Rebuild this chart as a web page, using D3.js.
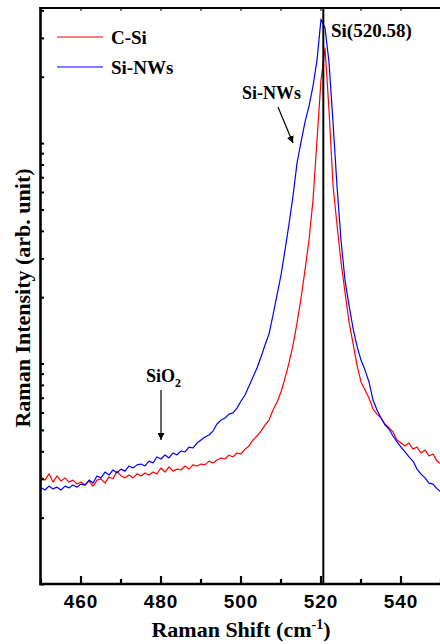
<!DOCTYPE html>
<html>
<head>
<meta charset="utf-8">
<script src="https://cdn.jsdelivr.net/npm/d3@7/dist/d3.min.js"></script>
<style>
  html, body { margin: 0; padding: 0; background: #fff; }
  svg { display: block; }
</style>
</head>
<body>
<svg id="chart" width="440" height="644"></svg>
<script>
// Raman shift (cm^-1), one sample per wavenumber
const shift = d3.range(450, 551);

// Crystalline silicon reference spectrum
const cSi = [
  3.06, 2.96, 3.16, 2.90, 3.09, 2.93, 3.03, 2.90, 2.96, 2.84,
  2.90, 2.81, 2.93, 2.78, 2.96, 3.00, 2.87, 3.06, 3.00, 3.25,
  3.09, 3.03, 3.12, 3.03, 3.16, 3.09, 3.19, 3.12, 3.22, 3.16,
  3.36, 3.22, 3.40, 3.25, 3.32, 3.29, 3.43, 3.32, 3.47, 3.43,
  3.50, 3.47, 3.61, 3.54, 3.65, 3.73, 3.69, 3.84, 3.77, 3.93,
  3.89, 4.09, 4.23, 4.50, 4.69, 4.94, 5.26, 5.54, 6.15, 6.68,
  7.43, 8.59, 10.06, 12.13, 15.25, 19.77, 26.55, 36.32, 55.1, 103.2,
  193.1, 269.7, 141.2, 64.5, 42.5, 28.9, 21.1, 15.43, 12.39, 9.84,
  8.25, 7.58, 6.98, 6.22, 5.90, 5.66, 5.32, 5.10, 4.89, 4.50,
  4.36, 4.23, 4.36, 4.09, 4.18, 3.93, 4.05, 3.81, 3.89, 3.61,
  3.50
];

// Silicon nanowire spectrum
const siNWs = [
  2.73, 2.67, 2.78, 2.70, 2.75, 2.67, 2.78, 2.73, 2.81, 2.75,
  2.84, 2.81, 2.96, 2.87, 3.09, 3.03, 3.22, 3.12, 3.29, 3.19,
  3.32, 3.25, 3.43, 3.36, 3.47, 3.50, 3.43, 3.61, 3.54, 3.77,
  3.69, 3.85, 3.73, 3.93, 3.85, 4.01, 3.97, 4.18, 4.14, 4.36,
  4.50, 4.64, 4.74, 4.94, 5.32, 5.54, 5.66, 5.90, 5.97, 6.28,
  6.76, 7.20, 7.91, 8.68, 9.54, 10.70, 12.13, 13.61, 16.60, 20.45,
  25.20, 32.71, 42.93, 57.50, 81.18, 101.0, 124.5, 147.2, 181.4, 237.9,
  365.0, 332.3, 233.0, 124.5, 63.83, 36.32, 23.91, 18.42, 14.49, 12.00,
  10.37, 9.34, 8.25, 6.83, 6.15, 5.66, 5.26, 5.05, 4.69, 4.41,
  4.18, 3.97, 3.77, 3.61, 3.32, 3.15, 3.03, 2.87, 2.84, 2.70,
  2.61
];

const seriesNames = ["C-Si", "Si-NWs"];
const seriesColors = ["#ff0000", "#0000ff"];
const xTickLabels = [460, 480, 500, 520, 540];
const peakPosition = 520.58;

const svg = d3.select("#chart");
const serif = "'Liberation Serif', 'Times New Roman', serif";
const sans = "'Liberation Sans', Arial, sans-serif";

const frame = { left: 41, right: 441, top: 8, bottom: 584 };

const x = d3.scaleLinear().domain([450, 550]).range([frame.left, frame.right]);
const y = d3.scaleLog().domain([1, 410]).range([frame.bottom, frame.top]);

const defs = svg.append("defs");

// clip the spectra to the frame
defs.append("clipPath").attr("id", "plotClip")
  .append("rect").attr("x", frame.left).attr("y", frame.top)
  .attr("width", frame.right - frame.left).attr("height", frame.bottom - frame.top);

defs.append("marker")
  .attr("id", "arrowHead")
  .attr("viewBox", "0 0 10 10")
  .attr("refX", 10).attr("refY", 5)
  .attr("markerWidth", 7).attr("markerHeight", 7)
  .attr("markerUnits", "userSpaceOnUse")
  .attr("orient", "auto")
  .append("path").attr("d", "M0,0 L10,5 L0,10 Z").attr("fill", "#000");

// spectra
const line = d3.line()
  .x((d, i) => x(shift[i]))
  .y(d => y(d));

const plot = svg.append("g").attr("clip-path", "url(#plotClip)");
[cSi, siNWs].forEach((vals, k) => {
  plot.append("path")
    .datum(vals)
    .attr("fill", "none")
    .attr("stroke", seriesColors[k])
    .attr("stroke-width", 1.2)
    .attr("stroke-linejoin", "round")
    .attr("d", line);
});

// peak marker line
svg.append("line")
  .attr("x1", x(peakPosition)).attr("x2", x(peakPosition))
  .attr("y1", frame.top).attr("y2", frame.bottom)
  .attr("stroke", "#000").attr("stroke-width", 2);

// bottom axis: major ticks every 20, minor every 10, pointing inward
const xMinor = d3.range(450, 551, 10);
const xAxis = svg.append("g").attr("transform", `translate(0,${frame.bottom})`);
xAxis.selectAll("line.tick").data(xMinor).join("line")
  .attr("class", "tick")
  .attr("x1", d => x(d)).attr("x2", d => x(d))
  .attr("y1", 0).attr("y2", d => (xTickLabels.includes(d) ? -8 : -5))
  .attr("stroke", "#000").attr("stroke-width", 2.2);
xAxis.selectAll("text").data(xTickLabels).join("text")
  .attr("x", d => x(d)).attr("y", 24)
  .attr("text-anchor", "middle")
  .attr("font-family", sans).attr("font-weight", "bold")
  .attr("font-size", 19).attr("letter-spacing", 1)
  .text(d => d);

// top frame ticks
const topAxis = svg.append("g").attr("transform", `translate(0,${frame.top})`);
topAxis.selectAll("line").data(xMinor).join("line")
  .attr("x1", d => x(d)).attr("x2", d => x(d))
  .attr("y1", 0).attr("y2", 3)
  .attr("stroke", "#000").attr("stroke-width", 1);

// left axis: log ticks, no labels
const yAxis = d3.axisLeft(y)
  .tickValues(y.ticks().filter(v => v < 410))
  .tickSizeInner(-3).tickSizeOuter(0)
  .tickFormat("");
svg.append("g").attr("transform", `translate(${frame.left},0)`)
  .call(yAxis)
  .call(g => g.selectAll(".tick line").attr("stroke", "#000").attr("stroke-width", 2))
  .call(g => g.select(".domain").remove());

// frame lines
svg.append("line").attr("x1", frame.left - 0.5).attr("x2", frame.left - 0.5)
  .attr("y1", frame.top - 1).attr("y2", frame.bottom + 1.2)
  .attr("stroke", "#000").attr("stroke-width", 2.6);
svg.append("line").attr("x1", frame.left - 1.5).attr("x2", frame.right + 2)
  .attr("y1", frame.bottom).attr("y2", frame.bottom)
  .attr("stroke", "#000").attr("stroke-width", 2.6);
svg.append("line").attr("x1", frame.left - 1.5).attr("x2", frame.right + 2)
  .attr("y1", frame.top).attr("y2", frame.top)
  .attr("stroke", "#000").attr("stroke-width", 2.2);

// axis titles
svg.append("text")
  .attr("x", 241).attr("y", 637)
  .attr("text-anchor", "middle")
  .attr("font-family", serif).attr("font-weight", "bold").attr("font-size", 22)
  .call(t => {
    t.append("tspan").text("Raman Shift (cm");
    t.append("tspan").attr("dy", -8).attr("font-size", 14).text("-1");
    t.append("tspan").attr("dy", 8).text(")");
  });

svg.append("text")
  .attr("transform", "translate(30,298) rotate(-90)")
  .attr("text-anchor", "middle")
  .attr("font-family", serif).attr("font-weight", "bold").attr("font-size", 22)
  .text("Raman Intensity (arb. unit)");

// legend
const legend = svg.append("g");
seriesNames.forEach((name, k) => {
  const ly = 37 + k * 30;
  legend.append("line")
    .attr("x1", 57).attr("x2", 103).attr("y1", ly).attr("y2", ly)
    .attr("stroke", seriesColors[k]).attr("stroke-width", 1.2);
  legend.append("text")
    .attr("x", 111).attr("y", ly + 7)
    .attr("font-family", serif).attr("font-weight", "bold").attr("font-size", 19)
    .text(name);
});

// annotations
svg.append("text")
  .attr("x", 331).attr("y", 37)
  .attr("font-family", serif).attr("font-weight", "bold").attr("font-size", 19)
  .text(`Si(${peakPosition})`);

svg.append("text")
  .attr("x", 242).attr("y", 99)
  .attr("font-family", serif).attr("font-weight", "bold").attr("font-size", 18)
  .text("Si-NWs");
svg.append("line")
  .attr("x1", 278).attr("y1", 107).attr("x2", 293).attr("y2", 143)
  .attr("stroke", "#000").attr("stroke-width", 1.2)
  .attr("marker-end", "url(#arrowHead)");

svg.append("text")
  .attr("x", 146).attr("y", 382)
  .attr("font-family", serif).attr("font-weight", "bold").attr("font-size", 18)
  .call(t => {
    t.append("tspan").text("SiO");
    t.append("tspan").attr("dy", 5).attr("font-size", 12).text("2");
  });
svg.append("line")
  .attr("x1", 161).attr("y1", 390).attr("x2", 161).attr("y2", 440)
  .attr("stroke", "#000").attr("stroke-width", 1.2)
  .attr("marker-end", "url(#arrowHead)");
</script>
</body>
</html>
